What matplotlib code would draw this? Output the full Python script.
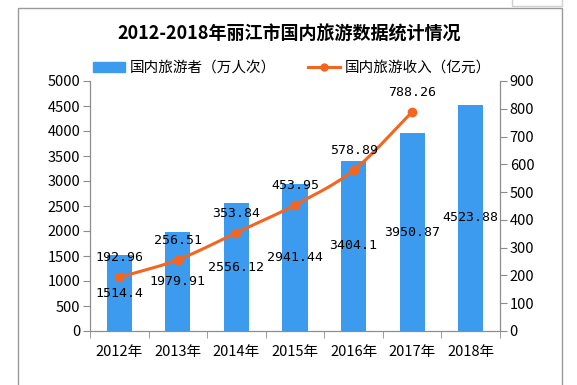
import numpy as np
import matplotlib
matplotlib.use("Agg")
import matplotlib.pyplot as plt
from matplotlib.patches import Rectangle
from matplotlib.lines import Line2D

plt.rcParams['font.family'] = ['Noto Sans CJK SC', 'DejaVu Sans']

years = ['2012年', '2013年', '2014年', '2015年', '2016年', '2017年', '2018年']
visitors = [1514.4, 1979.91, 2556.12, 2941.44, 3404.1, 3950.87, 4523.88]
visitor_labels = ['1514.4', '1979.91', '2556.12', '2941.44', '3404.1', '3950.87', '4523.88']
income = [192.96, 256.51, 353.84, 453.95, 578.89, 788.26]
income_labels = ['192.96', '256.51', '353.84', '453.95', '578.89', '788.26']
left_ticks = [0, 500, 1000, 1500, 2000, 2500, 3000, 3500, 4000, 4500, 5000]
right_ticks = [0, 100, 200, 300, 400, 500, 600, 700, 800, 900]

title = '2012-2018年丽江市国内旅游数据统计情况'
bar_name = '国内旅游者（万人次）'
line_name = '国内旅游收入（亿元）'

BAR_C = '#3d9bef'
LINE_C = '#f4661f'
AX_C = '#8c8c8c'

W, H = 577, 385
fig = plt.figure(figsize=(W / 100, H / 100), dpi=100)

# outer frame
fig.add_artist(Rectangle((18 / W, -0.05), (562 - 18) / W, 1.05 - 8 / H,
                         transform=fig.transFigure, fill=False, ec='#9a9a9a', lw=1))
fig.add_artist(Rectangle((512 / W, 1 - 6 / H), 50 / W, 0.05,
                         transform=fig.transFigure, fill=False, ec='#d0d0d0', lw=1))

ax = fig.add_axes([90 / W, 1 - 331 / H, (500 - 90) / W, (331 - 81) / H])
ax2 = ax.twinx()

x = np.arange(len(years))
ax.bar(x, visitors, width=0.43, color=BAR_C, zorder=2)
ax.set_xlim(-0.5, len(years) - 0.5)
ax.set_ylim(0, 5000)
ax.set_yticks(left_ticks)
ax.set_xticks(x)
ax.set_xticklabels(years, fontsize=10.5)
ax.set_xticks(np.arange(-0.5, len(years), 1.0), minor=True)
ax.tick_params(axis='x', which='major', length=0, pad=10)
ax.tick_params(axis='x', which='minor', length=5, color=AX_C, direction='out')
ax.tick_params(axis='y', length=5, color=AX_C, labelsize=10.5, pad=2)

MONO = ['DejaVu Sans Mono', 'Noto Sans CJK SC']
for xi, v, lab in zip(x, visitors, visitor_labels):
    ax.text(xi, v / 2, lab, ha='center', va='center', fontsize=9.5,
            family=MONO, zorder=5)

# smooth line (Catmull-Rom through data points for drawing only)
xi_l = np.arange(len(income), dtype=float)
yi_l = np.array(income, dtype=float)
px = np.concatenate([[2 * xi_l[0] - xi_l[1]], xi_l, [2 * xi_l[-1] - xi_l[-2]]])
py = np.concatenate([[2 * yi_l[0] - yi_l[1]], yi_l, [2 * yi_l[-1] - yi_l[-2]]])
cx, cy = [], []
t = np.linspace(0, 1, 30)
for i in range(1, len(px) - 2):
    p0, p1, p2, p3 = (np.array([px[j], py[j]]) for j in range(i - 1, i + 3))
    tt = t[:, None]
    pts = 0.5 * ((2 * p1) + (-p0 + p2) * tt + (2 * p0 - 5 * p1 + 4 * p2 - p3) * tt ** 2
                 + (-p0 + 3 * p1 - 3 * p2 + p3) * tt ** 3)
    cx.extend(pts[:, 0]); cy.extend(pts[:, 1])
ax2.plot(cx, cy, color=LINE_C, lw=2.2, zorder=3)
ax2.plot(xi_l, yi_l, 'o', color=LINE_C, ms=6, zorder=4)
for xv, v, lab in zip(xi_l, income, income_labels):
    ax2.annotate(lab, (xv, v), xytext=(0, 14), textcoords='offset points',
                 ha='center', va='center', fontsize=9.5, family=MONO, zorder=5)
ax2.set_ylim(0, 900)
ax2.set_yticks(right_ticks)
ax2.tick_params(axis='y', length=5, color=AX_C, labelsize=10.5, pad=2)

for a in (ax, ax2):
    a.spines['top'].set_visible(False)
    for s in ('left', 'right', 'bottom'):
        a.spines[s].set_color(AX_C)

fig.text(0.5 * (125 + 454) / W, 1 - 34 / H, title, ha='center', va='center',
         fontsize=13, fontweight='bold')

handles = [Rectangle((0, 0), 1, 1, color=BAR_C),
           Line2D([0], [0], color=LINE_C, lw=2.2, marker='o', ms=5)]
fig.legend(handles, [bar_name, line_name], loc='center', ncol=2,
           bbox_to_anchor=(292 / W, 1 - 68 / H), frameon=False, fontsize=10.5,
           handlelength=2.2, handletextpad=0.3, columnspacing=2.2)

fig.savefig('out.png', dpi=100)
